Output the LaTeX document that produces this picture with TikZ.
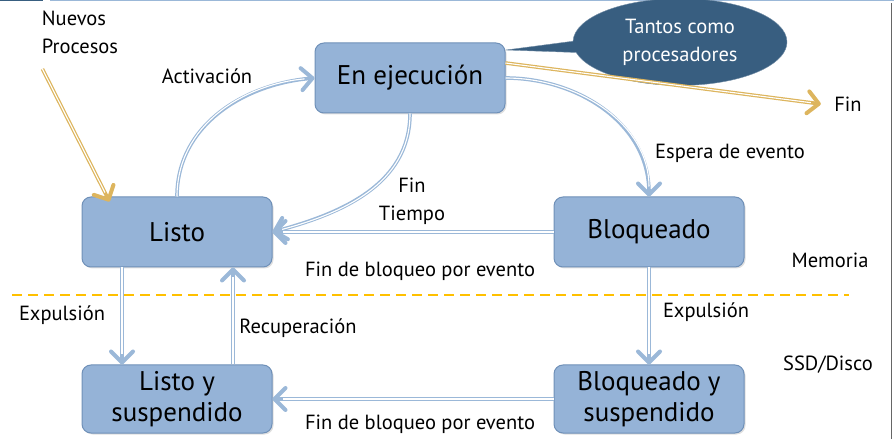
\documentclass[tikz,border=0pt]{standalone}
\usepackage{fontspec}
\setmainfont{PT Sans}
\usetikzlibrary{arrows.meta,shapes.callouts,shadows}

\definecolor{cajaazul}{HTML}{95B3D7}
\definecolor{bordeazul}{HTML}{6F90B8}
\definecolor{flechaazul}{HTML}{9BB8D8}
\definecolor{oro}{HTML}{DDB55E}
\definecolor{amarillo}{HTML}{FFC000}
\definecolor{globo}{HTML}{385E80}

\tikzset{
  estado/.style={draw=bordeazul, fill=cajaazul, rounded corners=9pt, line width=1pt,
    minimum width=190pt, minimum height=70pt, align=center, inner sep=1pt,
    font=\fontsize{27}{31}\selectfont,
    drop shadow={opacity=0.25, shadow xshift=1.5pt, shadow yshift=-1.5pt}},
  etiqueta/.style={align=center, font=\fontsize{20.5}{28}\selectfont},
  punta/.tip={Straight Barb[length=11pt, width=22pt, line width=4pt, round]},
  transicion/.style={draw=flechaazul, line width=3.6pt, -punta,
    postaction={draw=white, line width=1.1pt, -, shorten >=10pt}},
  entrada/.style={transicion, draw=oro}
}

\begin{document}
\begin{tikzpicture}[x=1pt, y=1pt]
  \useasboundingbox (0,0) rectangle (894,439);
  \draw[color=globo, line width=2pt] (0,439) -- (43,439);
  \draw[color=flechaazul, line width=2pt] (50,439) -- (894,439);
  \draw[color=gray!80!black, line width=1pt] (891,0) -- (891,436);

  \node[estado] (ejec) at (410,361) {En ejecución};
  \node[estado] (listo) at (177,207) {Listo};
  \node[estado] (bloq) at (649,207) {Bloqueado};
  \node[estado, minimum height=68pt] (listosus) at (177,40) {Listo y\\suspendido};
  \node[estado, minimum height=68pt] (bloqsus) at (649,40) {Bloqueado y\\suspendido};

  \node[ellipse callout, fill=globo, draw=globo!70!white, text=white, etiqueta,
    minimum width=214pt, minimum height=70pt, inner xsep=0pt, inner ysep=7.5pt,
    callout absolute pointer={(506,389)}] (tantos) at (680,397) {Tantos como\\procesadores};

  \node[etiqueta, align=left] (nuevos) at (80,407) {Nuevos\\Procesos};
  \node[etiqueta] (fin) at (848,335) {Fin};
  \node[etiqueta] (activ) at (207,363) {Activación};
  \node[etiqueta] (fintiempo) at (412,238) {Fin\\Tiempo};
  \node[etiqueta] (espera) at (730,286) {Espera de evento};
  \node[etiqueta] (finbloq) at (420,168) {Fin de bloqueo por evento};
  \node[etiqueta] (finbloqsus) at (420,15) {Fin de bloqueo por evento};
  \node[etiqueta] (expl) at (62,124) {Expulsión};
  \node[etiqueta] (recup) at (298,111) {Recuperación};
  \node[etiqueta] (expb) at (706,127) {Expulsión};
  \node[etiqueta] (memoria) at (830,179) {Memoria};
  \node[etiqueta] (disco) at (828,74) {SSD/Disco};

  \draw[color=amarillo, line width=2.5pt, dash pattern=on 10pt off 6pt] (12,144) -- (849,144);

  \draw[entrada] ([shift={(4,-12)}]nuevos.south west) -- ([shift={(28,-5)}]listo.north west);
  \draw[entrada] ([yshift=15pt]ejec.east) -- ([xshift=-10pt]fin.west);

  \draw[transicion] (listo.north) to[out=90, in=185] (ejec.west);
  \draw[transicion] (ejec.south) to[out=-90, in=15] (listo.east);
  \draw[transicion] (ejec.east) to[out=0, in=90] (bloq.north);
  \draw[transicion] (bloq.west) -- (listo.east);
  \draw[transicion] ([xshift=-55pt]listo.south) -- ([xshift=-55pt]listosus.north);
  \draw[transicion] ([xshift=56pt]listosus.north) -- ([xshift=56pt]listo.south);
  \draw[transicion] (bloq.south) -- (bloqsus.north);
  \draw[transicion] (bloqsus.west) -- (listosus.east);
\end{tikzpicture}
\end{document}
